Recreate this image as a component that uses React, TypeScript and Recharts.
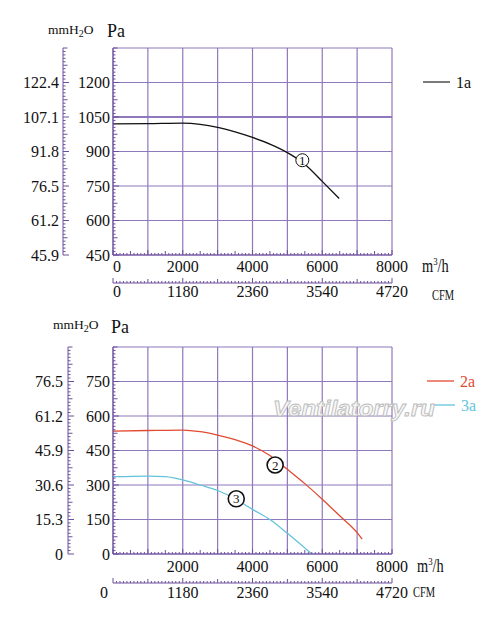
import React from 'react';
import {
  LineChart,
  Line,
  XAxis,
  YAxis,
  CartesianGrid,
  ReferenceDot,
  ReferenceLine,
} from 'recharts';

// fan curves: flow in m3/h, pressure in Pa
const flow1 = [0, 1000, 2000, 2500, 3000, 3500, 4000, 4500, 5000, 5500, 6000, 6486];
const pa1 = [1020, 1021, 1023, 1018, 1005, 985, 961, 932, 895, 845, 770, 696];

const flow2 = [0, 1000, 2000, 2500, 3000, 3500, 4000, 4500, 5000, 5500, 6000, 6500, 7000, 7143];
const pa2 = [534, 537, 539, 532, 517, 497, 470, 428, 368, 306, 238, 166, 93, 65];

const flow3 = [0, 1000, 1500, 2000, 2500, 3000, 3500, 4000, 4500, 5000, 5700];
const pa3 = [336, 339, 336, 322, 300, 276, 240, 194, 150, 90, 0];

// axis labels
const paTopTicks = [450, 600, 750, 900, 1050, 1200];
const mmTopLabels = ['45.9', '61.2', '76.5', '91.8', '107.1', '122.4'];
const paBottomTicks = [0, 150, 300, 450, 600, 750];
const mmBottomLabels = ['0', '15.3', '30.6', '45.9', '61.2', '76.5'];
const flowTopTicks = [0, 2000, 4000, 6000, 8000];
const flowBottomTicks = [2000, 4000, 6000, 8000];
const cfmTicks = [0, 1180, 2360, 3540, 4720];
const cfmLabels = ['0', '1180', '2360', '3540', '4720'];

// grid
const flowGrid = [0, 1000, 2000, 3000, 4000, 5000, 6000, 7000, 8000];
const paTopGrid = [450, 600, 750, 900, 1050, 1200, 1350];
const paBottomGrid = [0, 150, 300, 450, 600, 750, 900];

// circled curve numbers
const marksTop = [{ q: 5429, p: 862, n: '1' }];
const marksBottom = [
  { q: 4649, p: 387, n: '2' },
  { q: 3534, p: 240, n: '3' },
];

const AXIS = '#6c4f9d';
const GRID = '#8f78bb';
const RED = '#e24a30';
const CYAN = '#62c4da';
const FONT = '"Liberation Serif", "DejaVu Serif", serif';

const toRows = (qs: number[], ps: number[]) => qs.map((q, i) => ({ q, p: ps[i] }));
const steps = (from: number, to: number, step: number) =>
  Array.from({ length: Math.round((to - from) / step) + 1 }, (_, i) => from + i * step);

function yTick(values: number[], labels: string[], base: number, mid: number, dx: number) {
  return (props: any) => {
    const { x, y, payload } = props;
    const v = payload.value;
    const i = values.indexOf(v);
    const len = i >= 0 ? 6 : (v - base) % mid === 0 ? 4.5 : 2.5;
    return (
      <g>
        <line x1={x} x2={x + len} y1={y} y2={y} stroke={AXIS} strokeWidth={1} />
        {i >= 0 && (
          <text x={x - dx} y={y} dy="0.36em" textAnchor="end" fontSize={16} fontFamily={FONT} fill="#111">
            {labels[i]}
          </text>
        )}
      </g>
    );
  };
}

function xTick(values: number[], labels: string[], big: number, mid: number, dy: number, zero: 'start' | 'end') {
  return (props: any) => {
    const { x, y, payload } = props;
    const v = payload.value;
    const i = values.indexOf(v);
    const len = v % big === 0 ? 5 : v % mid === 0 ? 4 : 2;
    const isZero = v === 0;
    return (
      <g>
        <line x1={x} x2={x} y1={y} y2={y - len} stroke={AXIS} strokeWidth={1} />
        {i >= 0 && (
          <text
            x={isZero ? (zero === 'start' ? x : x - 5) : x}
            y={y + dy}
            textAnchor={isZero ? zero : 'middle'}
            fontSize={16}
            fontFamily={FONT}
            fill="#111"
          >
            {labels[i]}
          </text>
        )}
      </g>
    );
  };
}

interface Series {
  name: string;
  rows: { q: number; p: number }[];
  color: string;
}

interface PanelProps {
  height: number;
  margin: { top: number; right: number; bottom: number; left: number };
  paDomain: [number, number];
  paGrid: number[];
  paTicks: number[];
  mmLabels: string[];
  paWidth: number;
  mmWidth: number;
  mmDx: number;
  flowTicks: number[];
  flowHeight: number;
  flowDy: number;
  cfmDy: number;
  zero: 'start' | 'end';
  series: Series[];
  marks: { q: number; p: number; n: string }[];
  markR: number;
  markStroke: number;
  extraLine?: number;
}

// axis ids: the id that sorts first sits next to the plot
const X_FLOW = 'flow';
const X_CFM = 'flow_cfm';
const Y_PA = 'pa';
const Y_MM = 'pa_mm';

function Panel(p: PanelProps) {
  const [lo, hi] = p.paDomain;
  const paMinor = steps(lo, hi, 15);
  const flowMinor = steps(0, 8000, 100);
  const cfmMinor = steps(0, 4720, 59);
  const flowLabels = p.flowTicks.map(String);
  // invisible span so the CFM axis gets a domain of its own
  const cfmSpan = [
    { q: 0, p: lo },
    { q: 4720, p: lo },
  ];
  return (
    <LineChart width={500} height={p.height} margin={p.margin}>
      <CartesianGrid
        xAxisId={X_FLOW}
        yAxisId={Y_PA}
        verticalValues={flowGrid}
        horizontalValues={p.paGrid}
        stroke={GRID}
        strokeWidth={1.2}
      />
      {p.extraLine !== undefined && (
        <ReferenceLine xAxisId={X_FLOW} yAxisId={Y_PA} y={p.extraLine} stroke={GRID} strokeWidth={1.9} />
      )}
      <XAxis
        xAxisId={X_FLOW}
        dataKey="q"
        type="number"
        domain={[0, 8000]}
        allowDataOverflow
        ticks={flowMinor}
        interval={0}
        height={p.flowHeight}
        tickSize={0}
        tickMargin={0}
        tickLine={false}
        axisLine={{ stroke: AXIS }}
        tick={xTick(p.flowTicks, flowLabels, 1000, 500, p.flowDy, p.zero)}
      />
      <XAxis
        xAxisId={X_CFM}
        dataKey="q"
        type="number"
        domain={[0, 4720]}
        allowDataOverflow
        ticks={cfmMinor}
        interval={0}
        height={27}
        tickSize={0}
        tickMargin={0}
        tickLine={false}
        axisLine={{ stroke: AXIS }}
        tick={xTick(cfmTicks, cfmLabels, 1180, 590, p.cfmDy, p.zero)}
      />
      <YAxis
        yAxisId={Y_PA}
        type="number"
        domain={p.paDomain}
        allowDataOverflow
        ticks={paMinor}
        interval={0}
        width={p.paWidth}
        tickSize={0}
        tickMargin={0}
        tickLine={false}
        axisLine={{ stroke: AXIS }}
        tick={yTick(p.paTicks, p.paTicks.map(String), lo, 75, 3)}
      />
      <YAxis
        yAxisId={Y_MM}
        type="number"
        domain={p.paDomain}
        allowDataOverflow
        ticks={paMinor}
        interval={0}
        width={p.mmWidth}
        tickSize={0}
        tickMargin={0}
        tickLine={false}
        axisLine={{ stroke: AXIS }}
        tick={yTick(p.paTicks, p.mmLabels, lo, 75, p.mmDx)}
      />
      <Line
        xAxisId={X_CFM}
        yAxisId={Y_PA}
        data={cfmSpan}
        dataKey="p"
        stroke="none"
        dot={false}
        activeDot={false}
        legendType="none"
        isAnimationActive={false}
      />
      {p.series.map((s) => (
        <Line
          key={s.name}
          name={s.name}
          xAxisId={X_FLOW}
          yAxisId={Y_PA}
          data={s.rows}
          dataKey="p"
          type="monotone"
          stroke={s.color}
          strokeWidth={1.3}
          dot={false}
          activeDot={false}
          isAnimationActive={false}
        />
      ))}
      {p.marks.map((m) => (
        <ReferenceDot
          key={m.n}
          xAxisId={X_FLOW}
          yAxisId={Y_PA}
          x={m.q}
          y={m.p}
          r={p.markR}
          fill="#fff"
          stroke="#111"
          strokeWidth={p.markStroke}
          label={{ value: m.n, position: 'center', fontSize: 13, fontFamily: FONT, fill: '#111' }}
        />
      ))}
    </LineChart>
  );
}

function Unit({ x, y }: { x: number; y: number }) {
  return (
    <text transform={`translate(${x},${y}) scale(0.8,1)`} fontSize={18} fontFamily={FONT} fill="#111">
      m<tspan dy={-7} fontSize={11}>3</tspan>
      <tspan dy={7}>/h</tspan>
    </text>
  );
}

function Cfm({ x, y }: { x: number; y: number }) {
  return (
    <text transform={`translate(${x},${y}) scale(0.7,1)`} fontSize={15} fontFamily={FONT} fill="#111">
      CFM
    </text>
  );
}

function Mm({ x, y }: { x: number; y: number }) {
  return (
    <text x={x} y={y} fontSize={13.5} fontFamily={FONT} fill="#111">
      mmH<tspan dy={3} fontSize={10}>2</tspan>
      <tspan dy={-3}>O</tspan>
    </text>
  );
}

export default function App() {
  return (
    <div style={{ position: 'absolute', left: 0, top: 0, width: 500, height: 623, background: '#fff' }}>
      <div style={{ position: 'absolute', left: 0, top: 0 }}>
        <Panel
          height={310}
          margin={{ top: 48, right: 108, bottom: 0, left: 13 }}
          paDomain={[450, 1350]}
          paGrid={paTopGrid}
          paTicks={paTopTicks}
          mmLabels={mmTopLabels}
          paWidth={50}
          mmWidth={50}
          mmDx={4}
          flowTicks={flowTopTicks}
          flowHeight={28}
          flowDy={17}
          cfmDy={14}
          zero="start"
          series={[{ name: '1a', rows: toRows(flow1, pa1), color: '#111' }]}
          marks={marksTop}
          markR={6.5}
          markStroke={1}
          extraLine={1050}
        />
      </div>
      <div style={{ position: 'absolute', left: 0, top: 310 }}>
        <Panel
          height={313}
          margin={{ top: 37, right: 108, bottom: 13, left: 18 }}
          paDomain={[0, 900]}
          paGrid={paBottomGrid}
          paTicks={paBottomTicks}
          mmLabels={mmBottomLabels}
          paWidth={45}
          mmWidth={50}
          mmDx={5}
          flowTicks={flowBottomTicks}
          flowHeight={29}
          flowDy={18}
          cfmDy={15}
          zero="end"
          series={[
            { name: '2a', rows: toRows(flow2, pa2), color: RED },
            { name: '3a', rows: toRows(flow3, pa3), color: CYAN },
          ]}
          marks={marksBottom}
          markR={8}
          markStroke={1.6}
        />
      </div>
      <svg width={500} height={623} style={{ position: 'absolute', left: 0, top: 0, pointerEvents: 'none' }}>
        <Mm x={48} y={34} />
        <text x={107} y={37} fontSize={18} fontFamily={FONT} fill="#111">Pa</text>
        <line x1={423} x2={450} y1={82} y2={82} stroke="#222" strokeWidth={1.2} />
        <text x={456} y={88} fontSize={16} fontFamily={FONT} fill="#111">1a</text>
        <Unit x={422} y={272} />
        <Cfm x={432} y={300} />

        <Mm x={53} y={329} />
        <text x={111} y={333} fontSize={18} fontFamily={FONT} fill="#111">Pa</text>
        <line x1={427} x2={454} y1={381} y2={381} stroke={RED} strokeWidth={1.3} />
        <text x={460} y={387} fontSize={16} fontFamily={FONT} fill={RED}>2a</text>
        <line x1={430} x2={455} y1={405} y2={405} stroke={CYAN} strokeWidth={1.3} />
        <text x={461} y={411} fontSize={16} fontFamily={FONT} fill={CYAN}>3a</text>
        <text
          x={273}
          y={416}
          fontSize={22}
          fontStyle="italic"
          fontWeight="bold"
          fontFamily='"Liberation Sans", Arial, sans-serif'
          fill="#f7f7f7"
          stroke="#bdbdbd"
          strokeWidth={0.9}
          textLength={162}
          lengthAdjust="spacingAndGlyphs"
        >
          Ventilatorry.ru
        </text>
        <Unit x={417} y={572} />
        <Cfm x={413} y={597} />
      </svg>
    </div>
  );
}
